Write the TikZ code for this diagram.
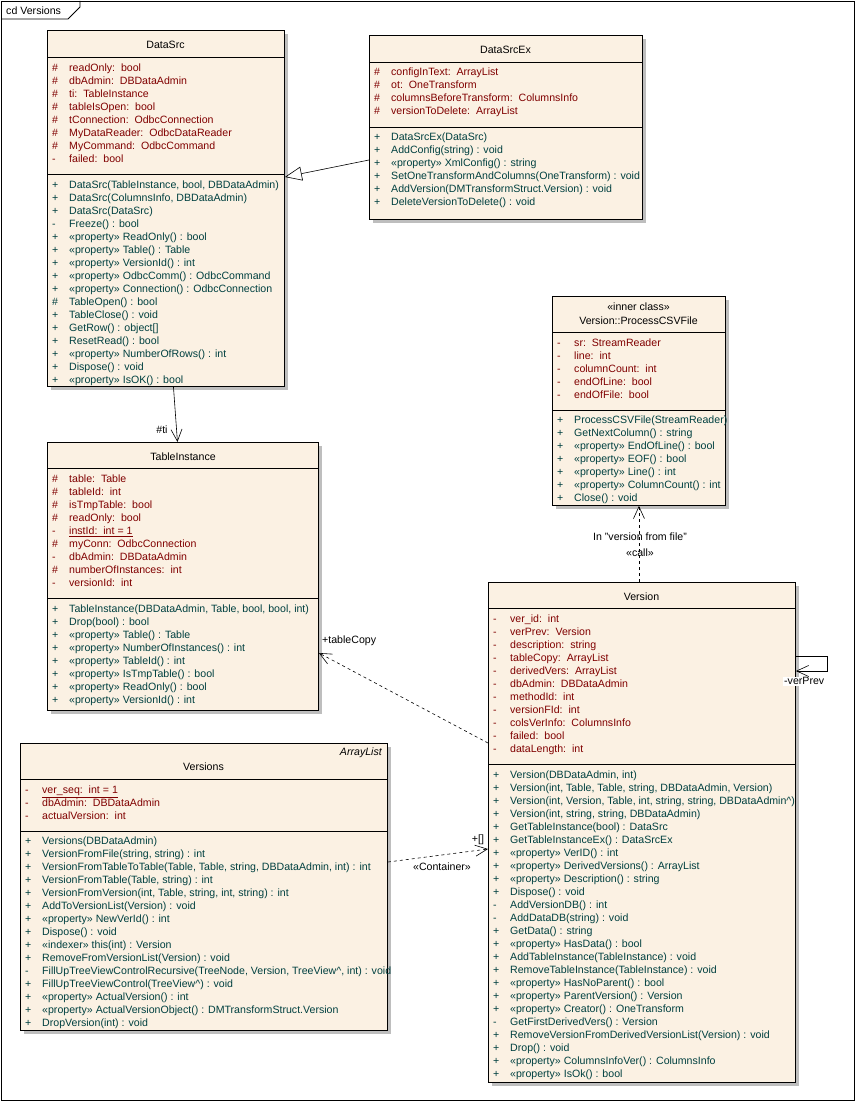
\documentclass[tikz,border=0pt]{standalone}
\usepackage{fontspec}
\setmainfont{Liberation Sans}
\usetikzlibrary{arrows.meta}
\usetikzlibrary{shadows}

\definecolor{classfill}{RGB}{251,241,227}
\definecolor{shadowgray}{RGB}{190,190,190}
\definecolor{attrred}{RGB}{128,0,0}
\definecolor{methteal}{RGB}{0,64,64}

\begin{document}
\begin{tikzpicture}[x=1pt,y=-1pt]
	\tikzstyle{classbox}=[draw,line width=0.9pt,fill=classfill,anchor=north west,inner sep=0pt,general shadow={fill=shadowgray,shadow xshift=4pt,shadow yshift=-4pt}]
	\tikzstyle{txt}=[inner sep=0pt,anchor=west,text height=7pt,text depth=0pt,font=\fontsize{10.6}{12}\selectfont]
	\tikzstyle{attr}=[txt,text=attrred]
	\tikzstyle{meth}=[txt,text=methteal]
	\tikzstyle{title}=[txt,anchor=center]
	\tikzstyle{sep}=[line width=0.9pt]
	\tikzstyle{assoc}=[line width=0.6pt,-{Straight Barb[length=12pt,width=11pt]}]
	\tikzstyle{dep}=[assoc,dash pattern=on 3pt off 3pt]
	\tikzstyle{gen}=[line width=0.6pt,-{Triangle[open,length=17pt,width=14pt]}]
	\tikzstyle{role}=[txt,anchor=center]
	\useasboundingbox (0,0) rectangle (856,1102);
	% frame
	\draw[line width=0.9pt] (1,1) rectangle (854.5,1100.5);
	\draw[line width=0.9pt] (1,19) -- (68,19) -- (80,7) -- (80,1);
	\node[txt] (frame-lbl) at (6,11) {cd Versions};

	% DataSrc
	\node[classbox,minimum width=237pt,minimum height=356pt] (DataSrc) at (47,30) {};
	\draw[sep] ([yshift=-27pt]DataSrc.north west) -- ([yshift=-27pt]DataSrc.north east);
	\draw[sep] ([yshift=-144pt]DataSrc.north west) -- ([yshift=-144pt]DataSrc.north east);
	\node[title] (DataSrc-t) at (165.5,45) {DataSrc};
	\foreach \v/\t [count=\i from 0] in {\#/{readOnly:\ \ bool},\#/{dbAdmin:\ \ DBDataAdmin},\#/{ti:\ \ TableInstance},\#/{tableIsOpen:\ \ bool},\#/{tConnection:\ \ OdbcConnection},\#/{MyDataReader:\ \ OdbcDataReader},\#/{MyCommand:\ \ OdbcCommand},-/{failed:\ \ bool}}
		\node[attr] (DataSrc-a\i) at (52,68+13*\i) {\makebox[17pt][l]{\v}\t};
	\foreach \v/\t [count=\i from 0] in {+/{DataSrc(TableInstance, bool, DBDataAdmin)},+/{DataSrc(ColumnsInfo, DBDataAdmin)},+/{DataSrc(DataSrc)},-/{Freeze() : bool},+/{«property» ReadOnly() : bool},+/{«property» Table() : Table},+/{«property» VersionId() : int},+/{«property» OdbcComm() : OdbcCommand},+/{«property» Connection() : OdbcConnection},\#/{TableOpen() : bool},+/{TableClose() : void},+/{GetRow() : object[]},+/{ResetRead() : bool},+/{«property» NumberOfRows() : int},+/{Dispose() : void},+/{«property» IsOK() : bool}}
		\node[meth] (DataSrc-m\i) at (52,185+13*\i) {\makebox[17pt][l]{\v}\t};

	% DataSrcEx
	\node[classbox,minimum width=273pt,minimum height=184pt] (DataSrcEx) at (369,35) {};
	\draw[sep] ([yshift=-27pt]DataSrcEx.north west) -- ([yshift=-27pt]DataSrcEx.north east);
	\draw[sep] ([yshift=-92pt]DataSrcEx.north west) -- ([yshift=-92pt]DataSrcEx.north east);
	\node[title] (DataSrcEx-t) at (505.5,50) {DataSrcEx};
	\foreach \v/\t [count=\i from 0] in {\#/{configInText:\ \ ArrayList},\#/{ot:\ \ OneTransform},\#/{columnsBeforeTransform:\ \ ColumnsInfo},\#/{versionToDelete:\ \ ArrayList}}
		\node[attr] (DataSrcEx-a\i) at (374,72+13*\i) {\makebox[17pt][l]{\v}\t};
	\foreach \v/\t [count=\i from 0] in {+/{DataSrcEx(DataSrc)},+/{AddConfig(string) : void},+/{«property» XmlConfig() : string},+/{SetOneTransformAndColumns(OneTransform) : void},+/{AddVersion(DMTransformStruct.Version) : void},+/{DeleteVersionToDelete() : void}}
		\node[meth] (DataSrcEx-m\i) at (374,137+13*\i) {\makebox[17pt][l]{\v}\t};

	% Version::ProcessCSVFile
	\node[classbox,minimum width=173pt,minimum height=209pt] (CSV) at (552,296) {};
	\draw[sep] ([yshift=-36pt]CSV.north west) -- ([yshift=-36pt]CSV.north east);
	\draw[sep] ([yshift=-114pt]CSV.north west) -- ([yshift=-114pt]CSV.north east);
	\node[title] (CSV-s) at (638.5,307) {«inner class»};
	\node[title] (CSV-t) at (638.5,321) {Version::ProcessCSVFile};
	\foreach \v/\t [count=\i from 0] in {-/{sr:\ \ StreamReader},-/{line:\ \ int},-/{columnCount:\ \ int},-/{endOfLine:\ \ bool},-/{endOfFile:\ \ bool}}
		\node[attr] (CSV-a\i) at (557,343+13*\i) {\makebox[17pt][l]{\v}\t};
	\foreach \v/\t [count=\i from 0] in {+/{ProcessCSVFile(StreamReader)},+/{GetNextColumn() : string},+/{«property» EndOfLine() : bool},+/{«property» EOF() : bool},+/{«property» Line() : int},+/{«property» ColumnCount() : int},+/{Close() : void}}
		\node[meth] (CSV-m\i) at (557,420+13*\i) {\makebox[17pt][l]{\v}\t};

	% TableInstance
	\node[classbox,minimum width=271pt,minimum height=268pt] (TableInstance) at (47,442) {};
	\draw[sep] ([yshift=-26pt]TableInstance.north west) -- ([yshift=-26pt]TableInstance.north east);
	\draw[sep] ([yshift=-156pt]TableInstance.north west) -- ([yshift=-156pt]TableInstance.north east);
	\node[title] (TableInstance-t) at (183,457) {TableInstance};
	\foreach \v/\t [count=\i from 0] in {\#/{table:\ \ Table},\#/{tableId:\ \ int},\#/{isTmpTable:\ \ bool},\#/{readOnly:\ \ bool},-/{\underline{instId:\ \ int = 1}},\#/{myConn:\ \ OdbcConnection},-/{dbAdmin:\ \ DBDataAdmin},\#/{numberOfInstances:\ \ int},-/{versionId:\ \ int}}
		\node[attr] (TableInstance-a\i) at (52,479+13*\i) {\makebox[17pt][l]{\v}\t};
	\foreach \v/\t [count=\i from 0] in {+/{TableInstance(DBDataAdmin, Table, bool, bool, int)},+/{Drop(bool) : bool},+/{«property» Table() : Table},+/{«property» NumberOfInstances() : int},+/{«property» TableId() : int},+/{«property» IsTmpTable() : bool},+/{«property» ReadOnly() : bool},+/{«property» VersionId() : int}}
		\node[meth] (TableInstance-m\i) at (52,609+13*\i) {\makebox[17pt][l]{\v}\t};

	% Versions
	\node[classbox,minimum width=367pt,minimum height=287pt] (Versions) at (20,743) {};
	\draw[sep] ([yshift=-36pt]Versions.north west) -- ([yshift=-36pt]Versions.north east);
	\draw[sep] ([yshift=-88pt]Versions.north west) -- ([yshift=-88pt]Versions.north east);
	\node[txt,anchor=east] (Versions-p) at (382,752) {\itshape ArrayList};
	\node[title] (Versions-t) at (203.5,767) {Versions};
	\foreach \v/\t [count=\i from 0] in {-/{\underline{ver\_seq:\ \ int = 1}},-/{dbAdmin:\ \ DBDataAdmin},-/{actualVersion:\ \ int}}
		\node[attr] (Versions-a\i) at (25,790+13*\i) {\makebox[17pt][l]{\v}\t};
	\foreach \v/\t [count=\i from 0] in {+/{Versions(DBDataAdmin)},+/{VersionFromFile(string, string) : int},+/{VersionFromTableToTable(Table, Table, string, DBDataAdmin, int) : int},+/{VersionFromTable(Table, string) : int},+/{VersionFromVersion(int, Table, string, int, string) : int},+/{AddToVersionList(Version) : void},+/{«property» NewVerId() : int},+/{Dispose() : void},+/{«indexer» this(int) : Version},+/{RemoveFromVersionList(Version) : void},-/{FillUpTreeViewControlRecursive(TreeNode, Version, TreeView\textasciicircum, int) : void},+/{FillUpTreeViewControl(TreeView\textasciicircum) : void},+/{«property» ActualVersion() : int},+/{«property» ActualVersionObject() : DMTransformStruct.Version},+/{DropVersion(int) : void}}
		\node[meth] (Versions-m\i) at (25,841+13*\i) {\makebox[17pt][l]{\v}\t};

	% Version
	\node[classbox,minimum width=307pt,minimum height=500pt] (Version) at (488,582) {};
	\draw[sep] ([yshift=-26pt]Version.north west) -- ([yshift=-26pt]Version.north east);
	\draw[sep] ([yshift=-182pt]Version.north west) -- ([yshift=-182pt]Version.north east);
	\node[title] (Version-t) at (641.5,597) {Version};
	\foreach \v/\t [count=\i from 0] in {-/{ver\_id:\ \ int},-/{verPrev:\ \ Version},-/{description:\ \ string},-/{tableCopy:\ \ ArrayList},-/{derivedVers:\ \ ArrayList},-/{dbAdmin:\ \ DBDataAdmin},-/{methodId:\ \ int},-/{versionFId:\ \ int},-/{colsVerInfo:\ \ ColumnsInfo},-/{failed:\ \ bool},-/{dataLength:\ \ int}}
		\node[attr] (Version-a\i) at (493,619+13*\i) {\makebox[17pt][l]{\v}\t};
	\foreach \v/\t [count=\i from 0] in {+/{Version(DBDataAdmin, int)},+/{Version(int, Table, Table, string, DBDataAdmin, Version)},+/{Version(int, Version, Table, int, string, string, DBDataAdmin\textasciicircum)},+/{Version(int, string, string, DBDataAdmin)},+/{GetTableInstance(bool) : DataSrc},+/{GetTableInstanceEx() : DataSrcEx},+/{«property» VerID() : int},+/{«property» DerivedVersions() : ArrayList},+/{«property» Description() : string},+/{Dispose() : void},-/{AddVersionDB() : int},-/{AddDataDB(string) : void},+/{GetData() : string},+/{«property» HasData() : bool},+/{AddTableInstance(TableInstance) : void},+/{RemoveTableInstance(TableInstance) : void},+/{«property» HasNoParent() : bool},+/{«property» ParentVersion() : Version},+/{«property» Creator() : OneTransform},-/{GetFirstDerivedVers() : Version},+/{RemoveVersionFromDerivedVersionList(Version) : void},+/{Drop() : void},+/{«property» ColumnsInfoVer() : ColumnsInfo},+/{«property» IsOk() : bool}}
		\node[meth] (Version-m\i) at (493,775+13*\i) {\makebox[17pt][l]{\v}\t};

	% connectors
	\draw[gen] ([yshift=-125pt]DataSrcEx.north west) -- ([yshift=-147pt]DataSrc.north east);
	\draw[assoc] ([xshift=7.5pt]DataSrc.south) -- ([xshift=-5.5pt]TableInstance.north);
	\node[role] (ti-role) at (162,430) {\#ti};
	\draw[dep] (CSV.south |- Version.north) -- (CSV.south);
	\node[role] (call-note) at (640,537) {In "version from file"};
	\node[role] (call-stereo) at (640,553) {«call»};
	\draw[dep] ([yshift=-161pt]Version.north west) -- ([yshift=-211pt]TableInstance.north east);
	\node[role,anchor=west] (tc-role) at (322,640) {+tableCopy};
	\draw[dep] ([yshift=-119pt]Versions.north east) -- ([yshift=-267pt]Version.north west);
	\node[role] (ct-role) at (478,839) {+[]};
	\node[role,fill=white,inner sep=1pt] (ct-stereo) at (442,867) {«Container»};
	\draw[assoc] ([yshift=-74pt]Version.north east) -- ++(31,0) -- ++(0,15) -- ([yshift=-89pt]Version.north east);
	\node[role,anchor=west,fill=white,inner sep=1pt] (vp-role) at (783,681) {-verPrev};
\end{tikzpicture}
\end{document}
